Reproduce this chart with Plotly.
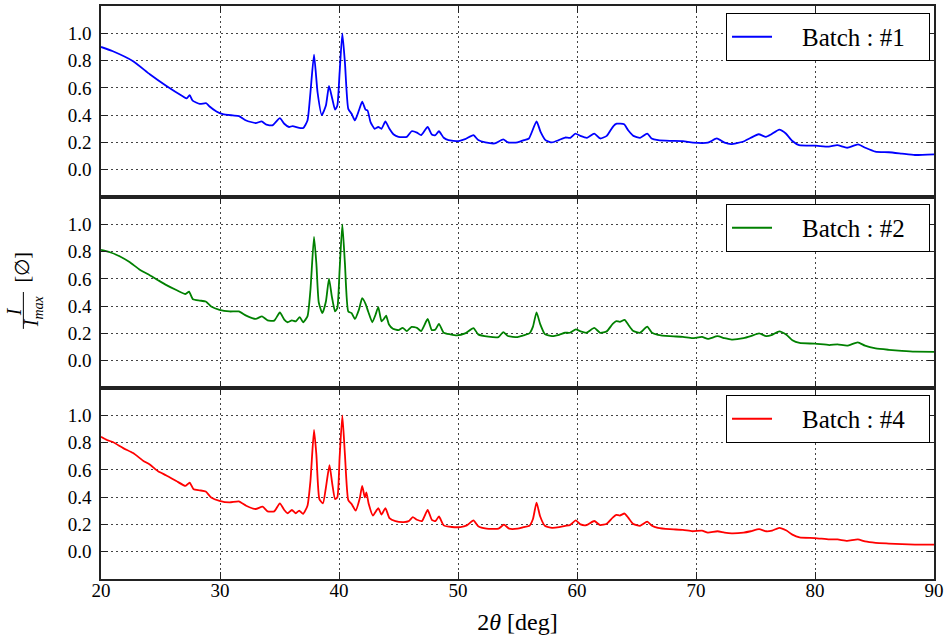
import plotly.graph_objects as go
from plotly.subplots import make_subplots

# ---------------- data ----------------
x1 = [20.0, 21.0, 22.7, 24.1, 25.5, 26.9, 27.2, 27.45, 27.7, 28.3, 28.85, 29.1, 29.7, 30.24, 31.07, 31.6,
      32.2, 33.0, 33.5, 33.9, 34.4, 35.03, 35.4, 35.8, 36.1, 36.65, 37.0, 37.35, 37.6, 37.9, 38.2, 38.55,
      38.9, 39.16, 39.44, 39.67, 39.86, 40.05, 40.28, 40.5, 40.78, 41.06, 41.34, 41.67, 41.95, 42.23, 42.4,
      42.65, 43.0, 43.3, 43.57, 43.9, 44.2, 44.6, 45.0, 45.7, 46.1, 46.55, 46.9, 47.45, 47.8, 48.1, 48.4,
      48.8, 49.2, 50.05, 50.6, 51.3, 51.7, 52.3, 53.1, 53.8, 54.2, 55.0, 55.54, 55.96, 56.6, 56.94, 57.35,
      57.9, 58.47, 59.0, 59.44, 59.86, 60.28, 60.84, 61.45, 61.95, 62.5, 63.06, 63.34, 63.96, 64.3, 64.74,
      65.3, 65.9, 66.27, 66.82, 67.8, 68.9, 69.75, 71.0, 71.75, 72.4, 72.95, 73.93, 74.6, 75.26, 75.88,
      76.3, 77.0, 77.55, 78.1, 78.66, 80.06, 81.17, 81.87, 82.7, 83.62, 84.23, 85.07, 86.2, 87.3, 88.4, 90.0]
y1 = [0.900, 0.868, 0.795, 0.700, 0.614, 0.537, 0.523, 0.547, 0.506, 0.482, 0.487, 0.465, 0.427, 0.407, 0.398, 0.393,
      0.361, 0.342, 0.354, 0.330, 0.325, 0.378, 0.337, 0.313, 0.320, 0.306, 0.306, 0.360, 0.566, 0.843, 0.566, 0.400,
      0.470, 0.614, 0.518, 0.440, 0.470, 0.710, 1.000, 0.783, 0.446, 0.410, 0.361, 0.434, 0.499, 0.440, 0.434,
      0.349, 0.300, 0.313, 0.300, 0.354, 0.306, 0.258, 0.241, 0.241, 0.282, 0.272, 0.253, 0.313, 0.258, 0.253, 0.282,
      0.234, 0.217, 0.210, 0.224, 0.253, 0.217, 0.200, 0.193, 0.222, 0.200, 0.200, 0.217, 0.229, 0.354, 0.277, 0.217,
      0.200, 0.217, 0.236, 0.234, 0.265, 0.248, 0.234, 0.265, 0.229, 0.248, 0.320, 0.337, 0.333, 0.289, 0.248,
      0.234, 0.265, 0.229, 0.217, 0.212, 0.210, 0.198, 0.198, 0.229, 0.198, 0.188, 0.205, 0.234, 0.260, 0.241,
      0.258, 0.294, 0.265, 0.210, 0.180, 0.176, 0.169, 0.180, 0.161, 0.186, 0.161, 0.133, 0.128, 0.118, 0.108, 0.113]

x2 = [20.0, 20.75, 21.6, 22.4, 23.26, 24.1, 24.8, 25.5, 26.33, 27.1, 27.4, 27.73, 28.3, 28.8, 29.26, 29.96,
      30.8, 31.58, 32.2, 33.0, 33.53, 34.0, 34.56, 35.03, 35.4, 35.68, 36.04, 36.37, 36.7, 36.98, 37.35, 37.6,
      37.9, 38.1, 38.3, 38.6, 38.9, 39.16, 39.4, 39.67, 39.86, 40.05, 40.28, 40.5, 40.78, 41.06, 41.34, 41.67,
      41.95, 42.23, 42.45, 42.8, 43.07, 43.3, 43.57, 43.77, 43.96, 44.2, 44.53, 45.0, 45.35, 45.7, 46.1, 46.55,
      46.9, 47.45, 47.8, 48.1, 48.4, 48.8, 49.35, 49.9, 50.6, 51.3, 51.7, 52.55, 53.4, 53.8, 54.2, 55.0,
      55.5, 56.0, 56.3, 56.6, 56.9, 57.3, 57.9, 58.5, 59.0, 59.4, 59.9, 60.3, 60.8, 61.45, 61.95, 62.5, 63.0,
      63.3, 63.6, 64.0, 64.3, 64.7, 65.3, 65.9, 66.3, 66.8, 67.8, 68.9, 69.7, 70.5, 71.0, 71.8, 72.4, 73.0,
      74.0, 74.6, 75.3, 75.9, 76.4, 77.0, 77.6, 78.1, 78.7, 80.0, 81.2, 81.9, 82.7, 83.6, 84.2, 85.1, 86.2,
      87.3, 88.4, 90.0]
y2 = [0.812, 0.795, 0.764, 0.723, 0.667, 0.627, 0.590, 0.554, 0.518, 0.489, 0.506, 0.450, 0.441, 0.434, 0.398, 0.373,
      0.361, 0.361, 0.330, 0.306, 0.325, 0.296, 0.294, 0.354, 0.301, 0.282, 0.296, 0.289, 0.320, 0.282, 0.325, 0.518,
      0.908, 0.710, 0.427, 0.349, 0.434, 0.602, 0.470, 0.361, 0.386, 0.663, 1.000, 0.710, 0.361, 0.349, 0.306, 0.373,
      0.458, 0.417, 0.361, 0.282, 0.337, 0.393, 0.289, 0.306, 0.330, 0.265, 0.234, 0.224, 0.241, 0.217, 0.248, 0.241,
      0.217, 0.306, 0.224, 0.229, 0.270, 0.205, 0.193, 0.186, 0.200, 0.239, 0.193, 0.176, 0.173, 0.210, 0.181, 0.173,
      0.185, 0.200, 0.250, 0.355, 0.270, 0.195, 0.180, 0.190, 0.205, 0.205, 0.230, 0.215, 0.205, 0.240, 0.205, 0.215, 0.270,
      0.290, 0.285, 0.300, 0.265, 0.220, 0.205, 0.250, 0.205, 0.190, 0.180, 0.175, 0.165, 0.175, 0.160, 0.180, 0.165, 0.155,
      0.165, 0.180, 0.200, 0.180, 0.190, 0.215, 0.190, 0.150, 0.130, 0.125, 0.115, 0.120, 0.110, 0.135, 0.110, 0.090, 0.080,
      0.072, 0.066, 0.065]

x4 = [20.0, 20.5, 21.03, 21.87, 22.7, 23.54, 24.1, 24.8, 25.5, 26.33, 27.1, 27.45, 27.78, 28.3, 28.8, 29.26,
      29.96, 30.8, 31.58, 32.2, 33.0, 33.58, 34.0, 34.56, 35.03, 35.4, 35.68, 36.04, 36.37, 36.65, 36.98, 37.35,
      37.6, 37.9, 38.1, 38.35, 38.65, 38.9, 39.2, 39.44, 39.67, 39.86, 40.05, 40.28, 40.5, 40.78, 41.06, 41.4,
      41.73, 41.95, 42.17, 42.3, 42.5, 42.85, 43.3, 43.57, 43.9, 44.24, 44.74, 45.44, 45.86, 46.2, 46.55, 46.97,
      47.45, 47.8, 48.1, 48.4, 48.8, 49.5, 50.2, 50.74, 51.3, 51.7, 52.4, 53.4, 53.86, 54.3, 55.0,
      55.5, 56.0, 56.3, 56.6, 56.9, 57.3, 57.9, 58.5, 59.0, 59.4, 59.9, 60.3, 60.8, 61.45, 61.95, 62.5, 63.0,
      63.3, 63.6, 64.0, 64.3, 64.7, 65.3, 65.9, 66.3, 66.8, 67.8, 68.9, 69.7, 70.5, 71.0, 71.8, 72.4, 73.0,
      74.0, 74.6, 75.3, 75.9, 76.4, 77.0, 77.6, 78.1, 78.7, 80.0, 81.2, 81.9, 82.7, 83.6, 84.2, 85.1, 86.2,
      87.3, 88.4, 90.0]
y4 = [0.843, 0.819, 0.802, 0.759, 0.723, 0.667, 0.639, 0.590, 0.559, 0.518, 0.482, 0.506, 0.458, 0.450, 0.441, 0.398,
      0.373, 0.361, 0.369, 0.337, 0.313, 0.330, 0.296, 0.296, 0.354, 0.306, 0.282, 0.306, 0.282, 0.301, 0.277, 0.337,
      0.518, 0.892, 0.710, 0.386, 0.354, 0.470, 0.634, 0.494, 0.386, 0.398, 0.687, 1.000, 0.710, 0.378, 0.349, 0.301,
      0.386, 0.482, 0.398, 0.434, 0.349, 0.265, 0.320, 0.272, 0.320, 0.246, 0.224, 0.217, 0.224, 0.253, 0.234, 0.224,
      0.306, 0.234, 0.224, 0.258, 0.193, 0.181, 0.181, 0.193, 0.229, 0.186, 0.169, 0.169, 0.198, 0.169, 0.169,
      0.180, 0.190, 0.240, 0.360, 0.260, 0.190, 0.175, 0.180, 0.190, 0.195, 0.230, 0.200, 0.195, 0.225, 0.195, 0.205, 0.250,
      0.270, 0.265, 0.280, 0.250, 0.205, 0.190, 0.220, 0.190, 0.175, 0.165, 0.160, 0.150, 0.155, 0.140, 0.150, 0.140, 0.135,
      0.140, 0.150, 0.165, 0.150, 0.155, 0.175, 0.155, 0.125, 0.105, 0.100, 0.090, 0.090, 0.080, 0.090, 0.075, 0.065, 0.060,
      0.055, 0.052, 0.052]

series_names = ["Batch : #1", "Batch : #2", "Batch : #4"]
series_colors = ["#0000ff", "#008000", "#ff0000"]
x_ticks = [20, 30, 40, 50, 60, 70, 80, 90]
y_ticks = [0.0, 0.2, 0.4, 0.6, 0.8, 1.0]
y_tick_labels = ["0.0", "0.2", "0.4", "0.6", "0.8", "1.0"]

# ---------------- figure ----------------
FONT = "Liberation Serif"
W, H = 948, 641
ML, MR, MT, MB = 101, 10, 4, 62
PW, PH = W - ML - MR, H - MT - MB


def px_to_paper(px, py):
    return (px - ML) / PW, (H - MB - py) / PH


fig = make_subplots(rows=3, cols=1, shared_xaxes=True, vertical_spacing=0)

NB = "\u00a0"
data = [(x1, y1), (x2, y2), (x4, y4)]
legends = ["legend", "legend2", "legend3"]
for i, ((xs, ys), name, col, lg) in enumerate(zip(data, series_names, series_colors, legends)):
    fig.add_trace(go.Scatter(x=xs, y=ys, mode="lines", name=NB * 4 + name + NB * 3,
                             line=dict(color=col, width=1.8, shape="spline", smoothing=0.5),
                             legend=lg),
                  row=i + 1, col=1)

axis_common = dict(showline=True, linecolor="#222222", linewidth=1.6, mirror="ticks",
                   ticks="inside", ticklen=7, tickwidth=1, tickcolor="#222222",
                   showgrid=True, gridcolor="#444444", gridwidth=1, griddash="1.5px,3.5px",
                   zeroline=False, tickfont=dict(family=FONT, size=19, color="black"))

for r in range(1, 4):
    fig.update_xaxes(range=[20, 90], tickvals=x_ticks, ticklabeloverflow="allow",
                     row=r, col=1, **axis_common)
    fig.update_yaxes(range=[-0.2, 1.2], tickvals=y_ticks, ticktext=y_tick_labels,
                     ticklabelstandoff=4, row=r, col=1, **axis_common)

fig.update_xaxes(ticklabelstandoff=-7, row=3, col=1,
                 title=dict(text="2<i>θ</i> [deg]", font=dict(family=FONT, size=24, color="black"),
                            standoff=14))

leg_common = dict(xanchor="right", yanchor="top", bgcolor="white", bordercolor="black",
                  borderwidth=1, itemwidth=40, font=dict(family=FONT, size=25, color="black"))
tops = [1.0, 2 / 3, 1 / 3]
lx = (934 - ML) / PW
layout_legends = {}
for lg, top in zip(legends, tops):
    layout_legends[lg] = dict(x=lx, y=top - 7 / PH, **leg_common)

fig.update_layout(width=W, height=H, margin=dict(l=ML, r=MR, t=MT, b=MB),
                  paper_bgcolor="white", plot_bgcolor="white", showlegend=True,
                  **layout_legends)

# y-axis label: I / I_max [∅] (rotated fraction)
lab_font = dict(family=FONT, size=20, color="black")
ann_common = dict(xref="paper", yref="paper", showarrow=False, textangle=-90,
                  xanchor="center", yanchor="middle", font=lab_font)
ax, ay = px_to_paper(22, 266)
fig.add_annotation(x=ax, y=ay, text="[∅]", **ann_common)
ax, ay = px_to_paper(14, 311)
fig.add_annotation(x=ax, y=ay, text="<i>I</i>", **ann_common)
ax, ay = px_to_paper(33, 310)
fig.add_annotation(x=ax, y=ay, text="<i>I<sub>max</sub></i>", **ann_common)
lx0, ly0 = px_to_paper(23, 291)
lx1, ly1 = px_to_paper(23, 328)
fig.add_shape(type="line", xref="paper", yref="paper", x0=lx0, y0=ly0, x1=lx1, y1=ly1,
              line=dict(color="black", width=1))

fig.write_html("out.html")
